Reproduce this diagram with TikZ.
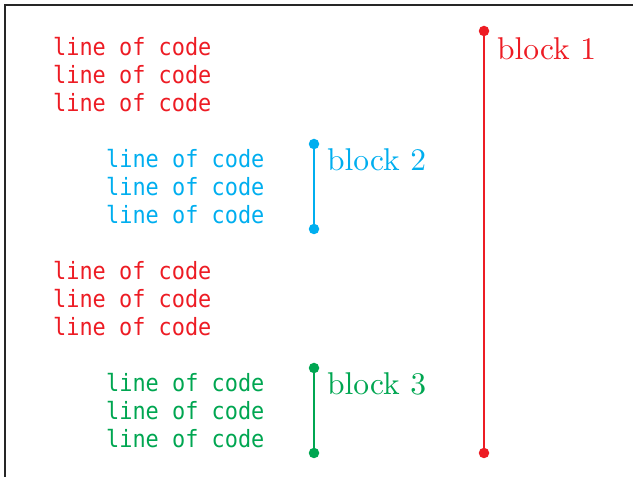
\documentclass[tikz,border=0pt]{standalone}
\usepackage{fontspec}
\setmonofont[FakeStretch=0.92]{DejaVu Sans Mono}
\newfontfamily\lmten[Extension=.otf]{lmroman10-regular}
\definecolor{cred}{RGB}{237,28,36}
\definecolor{cblue}{RGB}{0,174,239}
\definecolor{cgreen}{RGB}{0,166,81}
\begin{document}
\begin{tikzpicture}[x=1pt,y=1pt,
  code/.style={anchor=base west,inner sep=0pt,font=\ttfamily\fontsize{23.8}{26}\selectfont},
  blabel/.style={anchor=base west,inner sep=0pt,font=\lmten\fontsize{31.5}{34}\selectfont},
  bline/.style={line width=2.8pt},
  dot/.style={circle,fill,inner sep=0pt,minimum size=10.5pt}]
\useasboundingbox (0,0) rectangle (633,477);
\draw[line width=1.3pt,black!85] (5,-20) -- (5,472) -- (660,472);
% code lines
\foreach \y/\n in {55/a1,83/a2,111/a3,279/c1,307/c2,335/c3}
  \node[code,text=cred] (\n) at (53,477-\y-0.8) {line of code};
\foreach \y/\n in {167/b1,195/b2,223/b3}
  \node[code,text=cblue] (\n) at (106,477-\y-0.8) {line of code};
\foreach \y/\n in {391/d1,419/d2,447/d3}
  \node[code,text=cgreen] (\n) at (106,477-\y-0.8) {line of code};
% block markers
\node[dot,cred] (r1) at (484,477-31) {};
\node[dot,cred] (r2) at (484,477-453) {};
\draw[bline,cred] (r1.center) -- (r2.center);
\node[dot,cblue] (s1) at (314,477-144) {};
\node[dot,cblue] (s2) at (314,477-229) {};
\draw[bline,cblue] (s1.center) -- (s2.center);
\node[dot,cgreen] (t1) at (314,477-368) {};
\node[dot,cgreen] (t2) at (314,477-453) {};
\draw[bline,cgreen] (t1.center) -- (t2.center);
\node[blabel,text=cred] (l1) at (497,477-60) {block 1};
\node[blabel,text=cblue] (l2) at (327,477-171) {block 2};
\node[blabel,text=cgreen] (l3) at (327,477-395) {block 3};
\end{tikzpicture}
\end{document}
